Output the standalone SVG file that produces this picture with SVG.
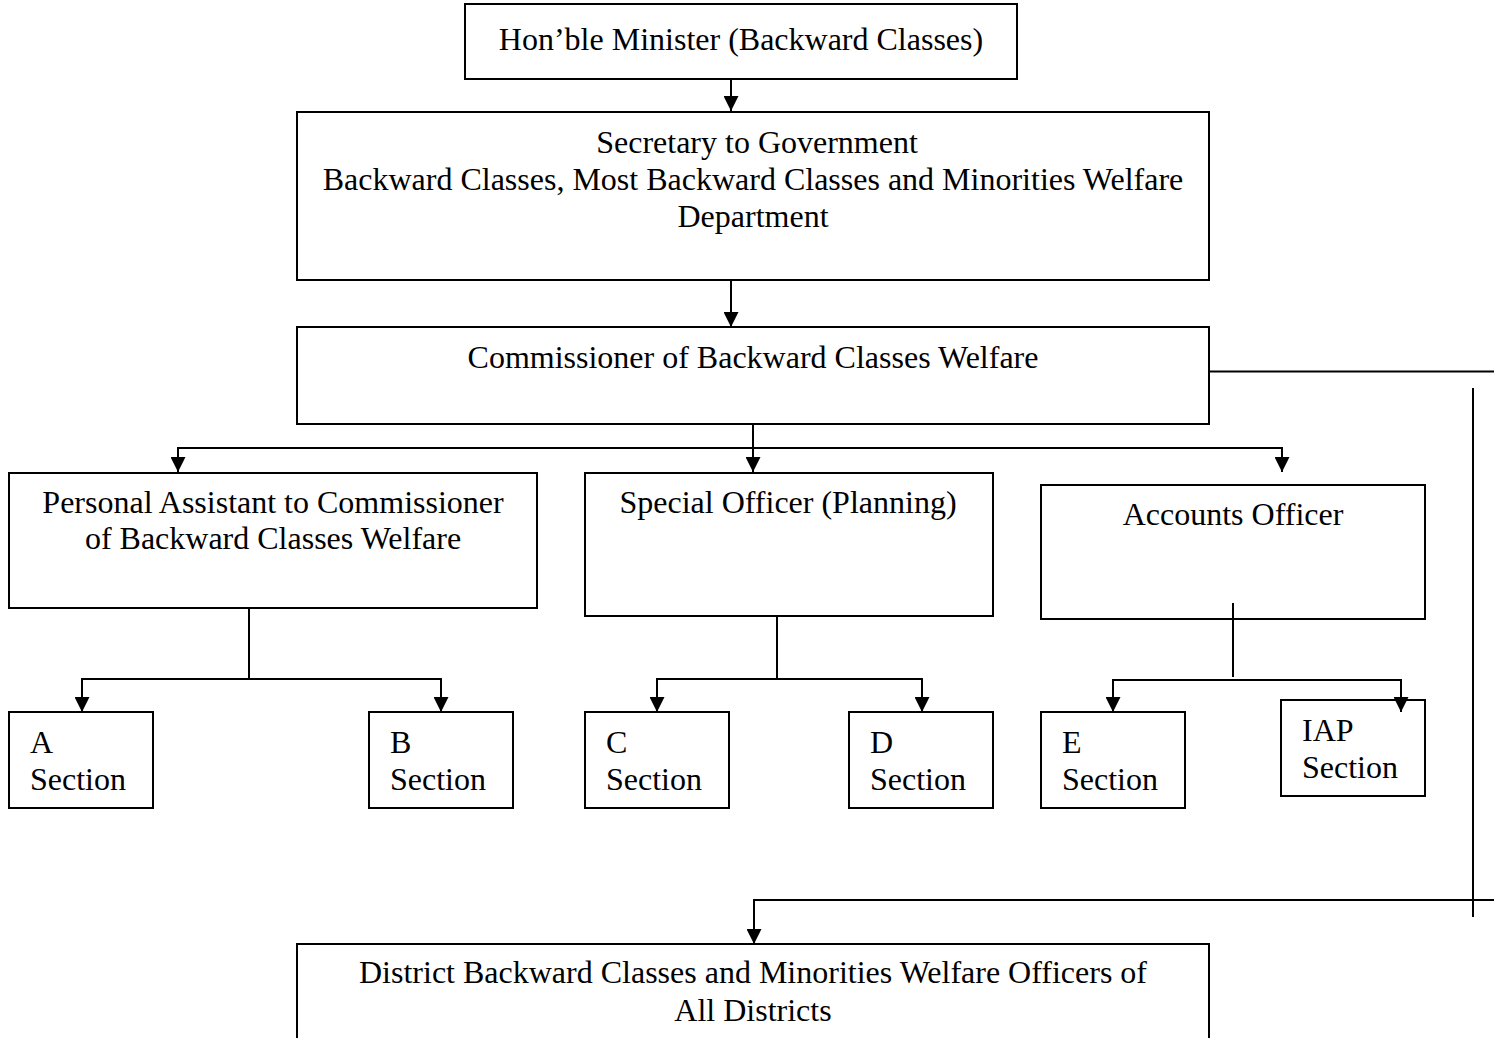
<svg xmlns="http://www.w3.org/2000/svg" width="1494" height="1038" viewBox="0 0 1494 1038">
<style>
.box{fill:#fff;stroke:#000;stroke-width:2}
.ln{fill:none;stroke:#000;stroke-width:2}
text{font-family:"Liberation Serif","Times New Roman",serif;font-size:32px;fill:#000}
.c{text-anchor:middle}
</style>
<defs>
<marker id="ah" markerUnits="userSpaceOnUse" markerWidth="15" markerHeight="15" refX="15" refY="7.5" orient="auto" viewBox="0 0 15 15">
<path d="M0,0 L15,7.5 L0,15 z" fill="#000"/>
</marker>
</defs>
<rect width="1494" height="1038" fill="#fff"/>
<g id="n-minister"><rect class="box" x="465" y="4" width="552" height="75"/><text class="c" x="741" y="50">Hon’ble Minister (Backward Classes)</text></g>
<g id="n-secretary"><rect class="box" x="297" y="112" width="912" height="168"/>
<text class="c" x="757" y="153">Secretary to Government</text>
<text class="c" x="753" y="190">Backward Classes, Most Backward Classes and Minorities Welfare</text>
<text class="c" x="753" y="227">Department</text></g>
<g id="n-commissioner"><rect class="box" x="297" y="327" width="912" height="97"/><text class="c" x="753" y="368">Commissioner of Backward Classes Welfare</text></g>
<g id="n-pa"><rect class="box" x="9" y="473" width="528" height="135"/>
<text class="c" x="273" y="513">Personal Assistant to Commissioner</text>
<text class="c" x="273" y="549">of Backward Classes Welfare</text></g>
<g id="n-so"><rect class="box" x="585" y="473" width="408" height="143"/><text class="c" x="788" y="513">Special Officer (Planning)</text></g>
<g id="n-ao"><rect class="box" x="1041" y="485" width="384" height="134"/><text class="c" x="1233" y="525">Accounts Officer</text></g>
<g id="n-a"><rect class="box" x="9" y="712" width="144" height="96"/><text x="30" y="753">A</text><text x="30" y="790">Section</text></g>
<g id="n-b"><rect class="box" x="369" y="712" width="144" height="96"/><text x="390" y="753">B</text><text x="390" y="790">Section</text></g>
<g id="n-c"><rect class="box" x="585" y="712" width="144" height="96"/><text x="606" y="753">C</text><text x="606" y="790">Section</text></g>
<g id="n-d"><rect class="box" x="849" y="712" width="144" height="96"/><text x="870" y="753">D</text><text x="870" y="790">Section</text></g>
<g id="n-e"><rect class="box" x="1041" y="712" width="144" height="96"/><text x="1062" y="753">E</text><text x="1062" y="790">Section</text></g>
<g id="n-iap"><rect class="box" x="1281" y="700" width="144" height="96"/><text x="1302" y="741">IAP</text><text x="1302" y="778">Section</text></g>
<g id="n-district"><rect class="box" x="297" y="944" width="912" height="110"/>
<text class="c" x="753" y="983">District Backward Classes and Minorities Welfare Officers of</text>
<text class="c" x="753" y="1021">All Districts</text></g>
<g id="connectors">
<path class="ln" d="M731,79 V111" marker-end="url(#ah)"/>
<path class="ln" d="M731,280 V327" marker-end="url(#ah)"/>
<path class="ln" d="M753,424 V472" marker-end="url(#ah)"/>
<path class="ln" d="M753,448 H178 V472" marker-end="url(#ah)"/>
<path class="ln" d="M753,448 H1282 V472" marker-end="url(#ah)"/>
<path class="ln" d="M249,608 V679"/>
<path class="ln" d="M249,679 H82 V712" marker-end="url(#ah)"/>
<path class="ln" d="M249,679 H441 V712" marker-end="url(#ah)"/>
<path class="ln" d="M777,616 V679"/>
<path class="ln" d="M777,679 H657 V712" marker-end="url(#ah)"/>
<path class="ln" d="M777,679 H922 V712" marker-end="url(#ah)"/>
<path class="ln" d="M1233,603 V677"/>
<path class="ln" d="M1233,680 H1113 V712" marker-end="url(#ah)"/>
<path class="ln" d="M1233,680 H1401 V712" marker-end="url(#ah)"/>
<path class="ln" d="M1209,371.5 H1494"/>
<path class="ln" d="M1473,388 V917"/>
<path class="ln" d="M1494,900 H754 V944" marker-end="url(#ah)"/>
</g>
</svg>
